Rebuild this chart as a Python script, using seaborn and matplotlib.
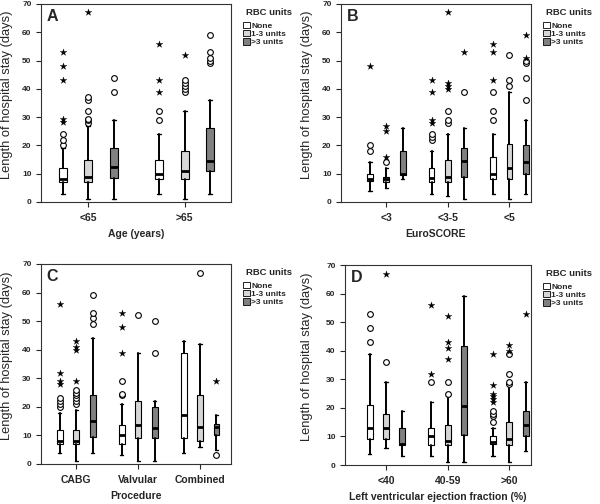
import numpy as np
import pandas as pd
import matplotlib
matplotlib.use("Agg")
import matplotlib.pyplot as plt
import seaborn as sns
from matplotlib.patches import Patch

# ---------------- data ----------------
RBC = ["None", "1-3 units", ">3 units"]
COLORS = ["#ffffff", "#d6d6d6", "#808080"]

# Panel A : Age
A_cats = ["<65", ">65"]
A_med = [[8, 10], [9, 11], [12.4, 14.5]]
A_q1 = [[7, 8], [7, 8], [8.5, 11]]
A_q3 = [[12, 15], [15, 18], [19, 26]]
A_lo = [[3, 3], [1, 1], [1, 3]]
A_hi = [[19, 24], [27, 32], [29, 36]]
A_out = [[[20, 22, 24], [29, 32]],
         [[28, 29, 29.5, 32, 36, 37], [39, 40, 41, 42, 43]],
         [[39, 44], [49, 50, 51, 53, 59]]]
A_ext = [[[28.4, 29.3, 43, 48, 53], [39, 43, 56]],
         [[67], [52]],
         [[], []]]

# Panel B : EuroSCORE
B_cats = ["<3", "<3-5", "<5"]
B_med = [[8, 8.5, 10], [8, 9, 12], [10, 14.4, 14]]
B_q1 = [[7.3, 7, 8], [7, 7, 8], [9.4, 9, 10]]
B_q3 = [[10, 12, 16], [8.7, 15, 20.5], [18, 19, 20]]
B_lo = [[4, 3, 3], [5, 2, 1], [8, 1, 3]]
B_hi = [[14, 18, 24], [12, 24, 39], [26, 26, 29]]
B_out = [[[18, 20], [22, 23, 24], [29, 32, 39]],
         [[14], [28, 29, 32], [41, 43, 52]],
         [[], [39], [36, 44, 49, 50]]]
B_ext = [[[48], [28, 29, 39, 43], [43, 53, 56]],
         [[16, 25, 27], [40, 41, 42, 67], []],
         [[], [53], [51, 59]]]

# Panel C : Procedure
C_cats = ["CABG", "Valvular", "Combined"]
C_med = [[8, 10, 17], [8, 13.5, 13], [15, 12.5, 13]]
C_q1 = [[7, 7, 9], [7, 9, 8], [9.5, 9, 10]]
C_q3 = [[12, 13.5, 39], [12, 22, 24], [24, 20, 14]]
C_lo = [[4, 3, 4], [1, 1, 6], [4, 1, 5]]
C_hi = [[18, 21, 43], [19, 39, 42], [44, 22, 17]]
C_out = [[[20, 21, 22, 23], [24, 24.5, 29], []],
         [[21, 22, 23, 24, 25, 26], [52], [67]],
         [[49, 51, 53, 59], [39, 50], [3]]]
C_ext = [[[28, 29, 32, 56], [39, 48, 53], []],
         [[29, 40, 41, 43], [], []],
         [[], [], [29]]]

# Panel D : LVEF
D_cats = ["<40", "40-59", ">60"]
D_med = [[13, 10, 8], [13, 8.4, 9], [7.2, 20.5, 14]]
D_q1 = [[9, 7, 7.5], [9, 7, 7], [7, 10.5, 10]]
D_q3 = [[21, 13, 10], [18, 14, 15], [13, 41.5, 19]]
D_lo = [[4, 3, 3], [6, 1, 1], [3, 1, 5]]
D_hi = [[39, 22, 13], [29, 24, 28], [19, 59, 29]]
D_out = [[[43, 48, 53], [29], [15, 17, 18, 19]],
         [[36], [25, 29], [28.5, 29, 32, 39]],
         [[], [], []]]
D_ext = [[[], [32, 56], [22, 23, 24, 25, 28, 39]],
         [[67], [37, 41, 43, 52], [40, 42]],
         [[], [], [53]]]

PANELS = [
    ("A", A_cats, A_med, A_q1, A_q3, A_lo, A_hi, A_out, A_ext, "Age (years)"),
    ("B", B_cats, B_med, B_q1, B_q3, B_lo, B_hi, B_out, B_ext, "EuroSCORE"),
    ("C", C_cats, C_med, C_q1, C_q3, C_lo, C_hi, C_out, C_ext, "Procedure"),
    ("D", D_cats, D_med, D_q1, D_q3, D_lo, D_hi, D_out, D_ext,
     "Left ventricular ejection fraction (%)"),
]

W, H = 600, 504
# axes boxes in pixels: left, top, width, height, panel left edge
AX_PX = {"A": (41, 4, 190, 198, 0), "B": (341, 4, 190, 198, 300),
         "C": (41, 264, 190, 200, 0), "D": (345, 265, 186, 200, 300)}
XLIMS = {"A": (-0.49, 1.48), "B": (-0.735, 2.35),
         "C": (-0.57, 2.5), "D": (-0.665, 2.35)}
BOXW = {"A": 0.08, "B": 0.095, "C": 0.095, "D": 0.095}
OFFSET = 0.265

sns.set_style("ticks")
plt.rcParams["font.family"] = ["Liberation Sans", "DejaVu Sans"]
plt.rcParams["font.weight"] = "bold"

fig = plt.figure(figsize=(W / 100, H / 100), dpi=100)

for (letter, cats, med, q1, q3, lo, hi, outs, exts, xlabel) in PANELS:
    l, t, w_px, h_px, p0 = AX_PX[letter]
    ax = fig.add_axes([l / W, 1 - (t + h_px) / H, w_px / W, h_px / H])
    w = BOXW[letter]
    out_rows, ext_rows = [], []
    for h in range(3):
        stats, pos = [], []
        for g in range(len(cats)):
            stats.append(dict(med=med[h][g], q1=q1[h][g], q3=q3[h][g],
                              whislo=lo[h][g], whishi=hi[h][g], fliers=[]))
            x = g + (h - 1) * OFFSET
            pos.append(x)
            for v in outs[h][g]:
                out_rows.append((x, v))
            for v in exts[h][g]:
                ext_rows.append((x, v))
        ax.bxp(stats, positions=pos, widths=w, capwidths=w * 0.55,
               showfliers=False, patch_artist=True,
               boxprops=dict(facecolor=COLORS[h], edgecolor="black", linewidth=0.8),
               medianprops=dict(color="black", linewidth=2.0),
               whiskerprops=dict(color="black", linewidth=1.4),
               capprops=dict(color="black", linewidth=1.0),
               manage_ticks=False, zorder=2)
    df_out = pd.DataFrame(out_rows, columns=["x", "y"])
    df_ext = pd.DataFrame(ext_rows, columns=["x", "y"])
    if len(df_out):
        sns.scatterplot(data=df_out, x="x", y="y", marker="o", s=17,
                        facecolor="white", edgecolor="black", linewidth=0.8,
                        ax=ax, zorder=3)
    if len(df_ext):
        sns.scatterplot(data=df_ext, x="x", y="y", marker="*", s=26,
                        color="black", edgecolor="black", linewidth=0.2,
                        ax=ax, zorder=3)

    ax.set_xlim(*XLIMS[letter])
    ax.set_ylim(0, 70)
    ax.set_yticks(np.arange(0, 71, 10))
    ax.set_xticks(range(len(cats)))
    ax.set_xticklabels(cats, fontsize=7.5, fontweight="bold")
    ax.tick_params(axis="y", labelsize=6, length=3.6, width=0.8, pad=3.2)
    ax.tick_params(axis="x", length=3.6, width=0.8, pad=4.5)
    for lab in ax.get_yticklabels():
        lab.set_fontweight("bold")
    for sp in ax.spines.values():
        sp.set_visible(True)
        sp.set_linewidth(0.8)
        sp.set_color("#333333")
    ax.set_xlabel(xlabel, fontsize=7.5, fontweight="bold", labelpad=4)
    ax.set_ylabel("Length of hospital stay (days)", fontsize=9.3,
                  fontweight="normal")
    ax.yaxis.set_label_coords((p0 + 13 - l) / w_px, 0.54)
    ax.text(0.03, 0.975, letter, transform=ax.transAxes, fontsize=11.5,
            fontweight="bold", va="top", ha="left")

    # legend: title as text, entries as a legend
    right_px = l + w_px
    ax.text((right_px + 15 - l) / w_px, 1 - 8.3 / h_px, "RBC units",
            transform=ax.transAxes, fontsize=6.8, fontweight="bold",
            ha="left", va="center")
    handles = [Patch(facecolor=c, edgecolor="black", linewidth=0.6) for c in COLORS]
    leg = ax.legend(handles, RBC, loc="upper left",
                    bbox_to_anchor=((right_px + 12 - l) / w_px, 1 - 18.0 / h_px),
                    frameon=False, fontsize=6.0, handlelength=0.8,
                    handleheight=0.8, handletextpad=0.2, labelspacing=0.0,
                    borderaxespad=0.0, borderpad=0.0)
    for tx in leg.get_texts():
        tx.set_fontweight("bold")

fig.savefig("out.png", dpi=100)
